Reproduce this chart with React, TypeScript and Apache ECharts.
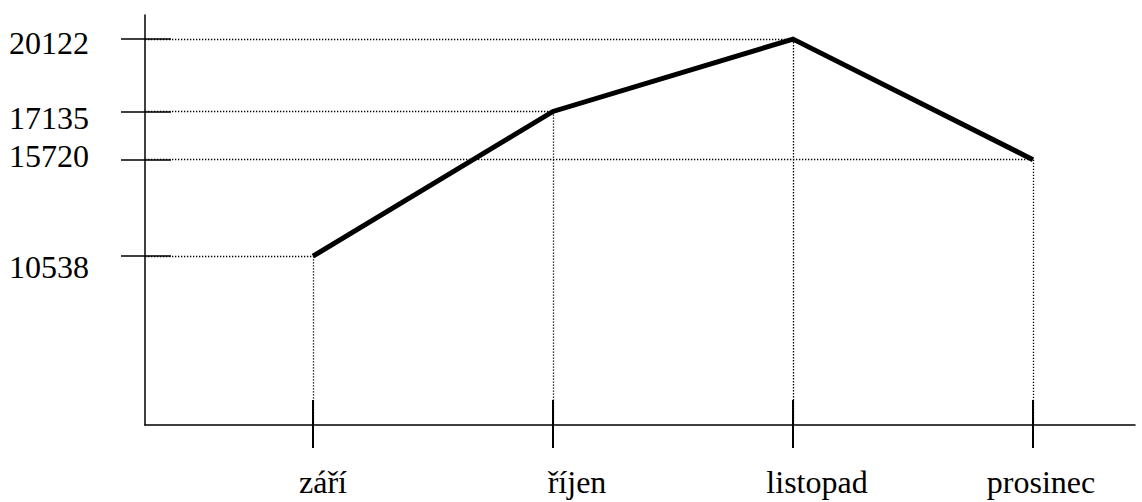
import React, { useEffect, useRef } from 'react';
import * as echarts from 'echarts';

// ---- data ----
const months: string[] = ['září', 'říjen', 'listopad', 'prosinec'];
const values: number[] = [10538, 17135, 20122, 15720];
// schematic (non-proportional) value levels of the y axis, bottom to top
const yLevels: string[] = ['', '', '', '', '', '', '', '10538', '', '', '', '15720', '', '17135', '', '', '20122', ''];

// ---- layout / style ----
const X_MIN = -0.7;
const X_MAX = 3.425;
const FONT = "'Liberation Serif', 'Times New Roman', Times, serif";
const FS = 32;
const INK = '#000';
// small hand-placed label offsets of the original drawing
const xLabelPad: number[][] = [[0, 0, 0, 20], [0, 0, 0, 48], [0, 0, 0, 48], [0, 0, 0, 16]];
const yLabelPad: Record<string, number[]> = {
  '20122': [8, 0, 0, 0],
  '17135': [14, 0, 0, 0],
  '15720': [0, 0, 8, 0],
  '10538': [22, 0, 0, 0],
};

export default function App() {
  const ref = useRef<HTMLDivElement>(null);
  useEffect(() => {
    if (!ref.current) return;
    const chart = echarts.init(ref.current, undefined, { renderer: 'svg' });
    const tickIdx = months.map((_, i) => i);
    const points = values.map((v, i) => [i, yLevels.indexOf(String(v))]);

    const xRich: Record<string, any> = {};
    months.forEach((_, i) => {
      xRich['m' + i] = { fontFamily: FONT, fontSize: FS, color: INK, lineHeight: 22, padding: xLabelPad[i] };
    });
    const yRich: Record<string, any> = {};
    Object.keys(yLabelPad).forEach((k) => {
      yRich['v' + k] = { fontFamily: FONT, fontSize: FS, color: INK, lineHeight: FS, padding: yLabelPad[k] };
    });

    const guides: any[] = [];
    points.forEach(([x, lvl]) => {
      guides.push([{ coord: [X_MIN, lvl] }, { coord: [x, lvl] }]);
      guides.push([{ coord: [x, lvl] }, { coord: [x, 0] }]);
    });

    const axisLineStyle = { color: INK, width: 1.5 };

    chart.setOption({
      animation: false,
      backgroundColor: '#fff',
      grid: { left: 145, right: 7, top: 15, bottom: 77, containLabel: false, outerBoundsMode: 'none' },
      xAxis: [
        {
          type: 'value', min: X_MIN, max: X_MAX, position: 'bottom', offset: 0,
          axisLine: { show: true, onZero: false, lineStyle: axisLineStyle },
          axisTick: { show: true, inside: false, length: 23, customValues: tickIdx, lineStyle: { color: INK, width: 2 } },
          axisLabel: {
            show: true, customValues: tickIdx, margin: 46,
            fontFamily: FONT, fontSize: FS, color: INK, lineHeight: 22,
            formatter: (v: number) => {
              const i = Math.round(v);
              return months[i] ? '{m' + i + '|' + months[i] + '}' : '';
            },
            rich: xRich,
          },
          splitLine: { show: false },
        },
        {
          type: 'value', min: X_MIN, max: X_MAX, position: 'bottom', offset: 0,
          axisLine: { show: false, onZero: false },
          axisTick: { show: true, inside: true, length: 25, customValues: tickIdx, lineStyle: { color: INK, width: 2 } },
          axisLabel: { show: false },
          splitLine: { show: false },
        },
      ],
      yAxis: [
        {
          type: 'category', data: yLevels, boundaryGap: false, position: 'left', offset: 0,
          axisLine: { show: true, onZero: false, lineStyle: axisLineStyle },
          axisTick: { show: true, inside: false, length: 24, interval: (_i: number, v: string) => v !== '', lineStyle: { color: INK, width: 1.5 } },
          axisLabel: {
            show: true, interval: 0, margin: 56,
            fontFamily: FONT, fontSize: FS, color: INK,
            formatter: (v: string) => (v ? '{v' + v + '|' + v + '}' : ''),
            rich: yRich,
          },
          splitLine: { show: false },
        },
        {
          type: 'category', data: yLevels, boundaryGap: false, position: 'left', offset: 0,
          axisLine: { show: false, onZero: false },
          axisTick: { show: true, inside: true, length: 26, interval: (_i: number, v: string) => v !== '', lineStyle: { color: INK, width: 1.5 } },
          axisLabel: { show: false },
          splitLine: { show: false },
        },
      ],
      series: [
        {
          type: 'line',
          xAxisIndex: 0,
          yAxisIndex: 0,
          data: points,
          symbol: 'none',
          showSymbol: false,
          lineStyle: { color: INK, width: 5, join: 'miter', cap: 'butt' },
          z: 3,
          markLine: {
            silent: true,
            symbol: ['none', 'none'],
            label: { show: false },
            lineStyle: { color: INK, width: 1.3, type: [1.3, 1.7], opacity: 1 },
            emphasis: { disabled: true },
            data: guides,
            z: 1,
          },
        },
      ],
    });
    return () => chart.dispose();
  }, []);
  return <div ref={ref} style={{ position: 'fixed', left: 0, top: 0, width: 1142, height: 502 }} />;
}
